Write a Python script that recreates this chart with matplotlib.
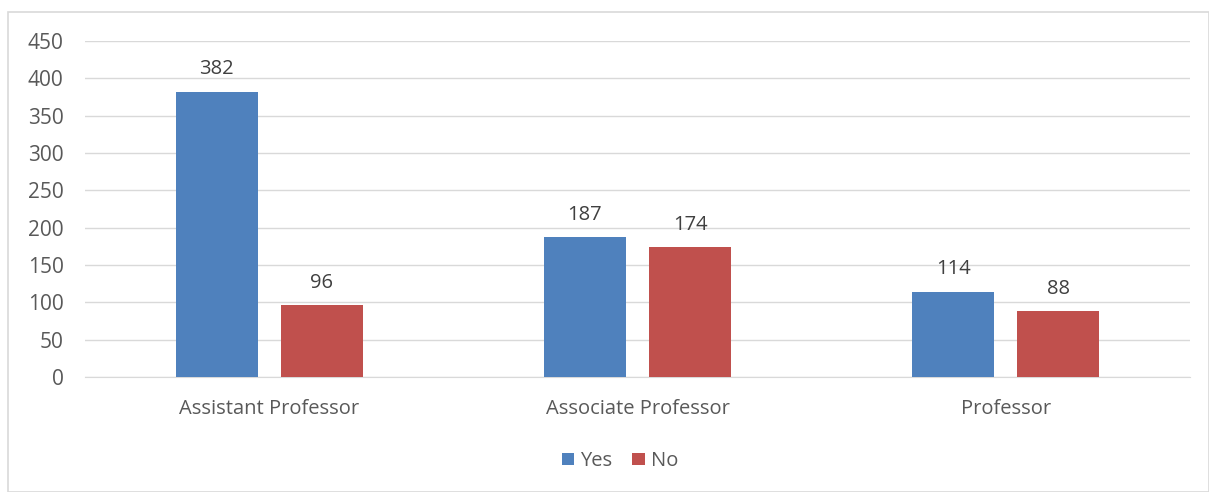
import matplotlib
matplotlib.use("Agg")
import matplotlib.pyplot as plt
import numpy as np
from matplotlib.patches import Rectangle

categories = ["Assistant Professor", "Associate Professor", "Professor"]
yes_values = [382, 187, 114]
no_values = [96, 174, 88]
series_names = ["Yes", "No"]
yticks = [0, 50, 100, 150, 200, 250, 300, 350, 400, 450]

plt.rcParams['font.family'] = ['Open Sans', 'DejaVu Sans']
text_color = "#595959"

fig = plt.figure(figsize=(12.09, 4.92), dpi=100)
fig.patches.append(Rectangle((8/1209, 0), 1 - 8/1209, 1 - 12/492, transform=fig.transFigure,
                             fill=False, edgecolor="#D9D9D9", linewidth=1.2))
ax = fig.add_axes([85/1209, 1 - 377/492, (1190-85)/1209, (377-41)/492])

x = np.arange(len(categories))
w = 0.223
gap = 0.0625
off = (w + gap) / 2
b1 = ax.bar(x - off, yes_values, w, color="#4F81BD", label=series_names[0], zorder=3)
b2 = ax.bar(x + off, no_values, w, color="#C0504D", label=series_names[1], zorder=3)

for bars in (b1, b2):
    for r in bars:
        ax.annotate(f"{int(r.get_height())}", (r.get_x() + r.get_width()/2, r.get_height()),
                    xytext=(0, 9), textcoords="offset points", ha="center", va="bottom",
                    fontsize=14.5, color="#404040")

ax.set_xlim(-0.5, 2.5)
ax.set_ylim(0, 450)
ax.set_yticks(yticks)
ax.set_xticks(x)
ax.set_xticklabels(categories)
ax.tick_params(axis="both", length=0, labelsize=14.5, labelcolor=text_color)
ax.tick_params(axis="x", pad=16)
ax.tick_params(axis="y", labelsize=15, pad=15.5)
ax.grid(axis="y", color="#D9D9D9", linewidth=1, zorder=0)
for s in ["top", "right", "left"]:
    ax.spines[s].set_visible(False)
ax.spines["bottom"].set_color("#D9D9D9")

leg = fig.legend(handles=[b1, b2], labels=series_names, loc="center", bbox_to_anchor=(620/1209, 1 - 461/492),
                 ncol=2, frameon=False, fontsize=14.5, handlelength=0.6, handleheight=0.6,
                 handletextpad=0.3, columnspacing=1.0)
for t in leg.get_texts():
    t.set_color(text_color)

fig.savefig("out.png", dpi=100)
